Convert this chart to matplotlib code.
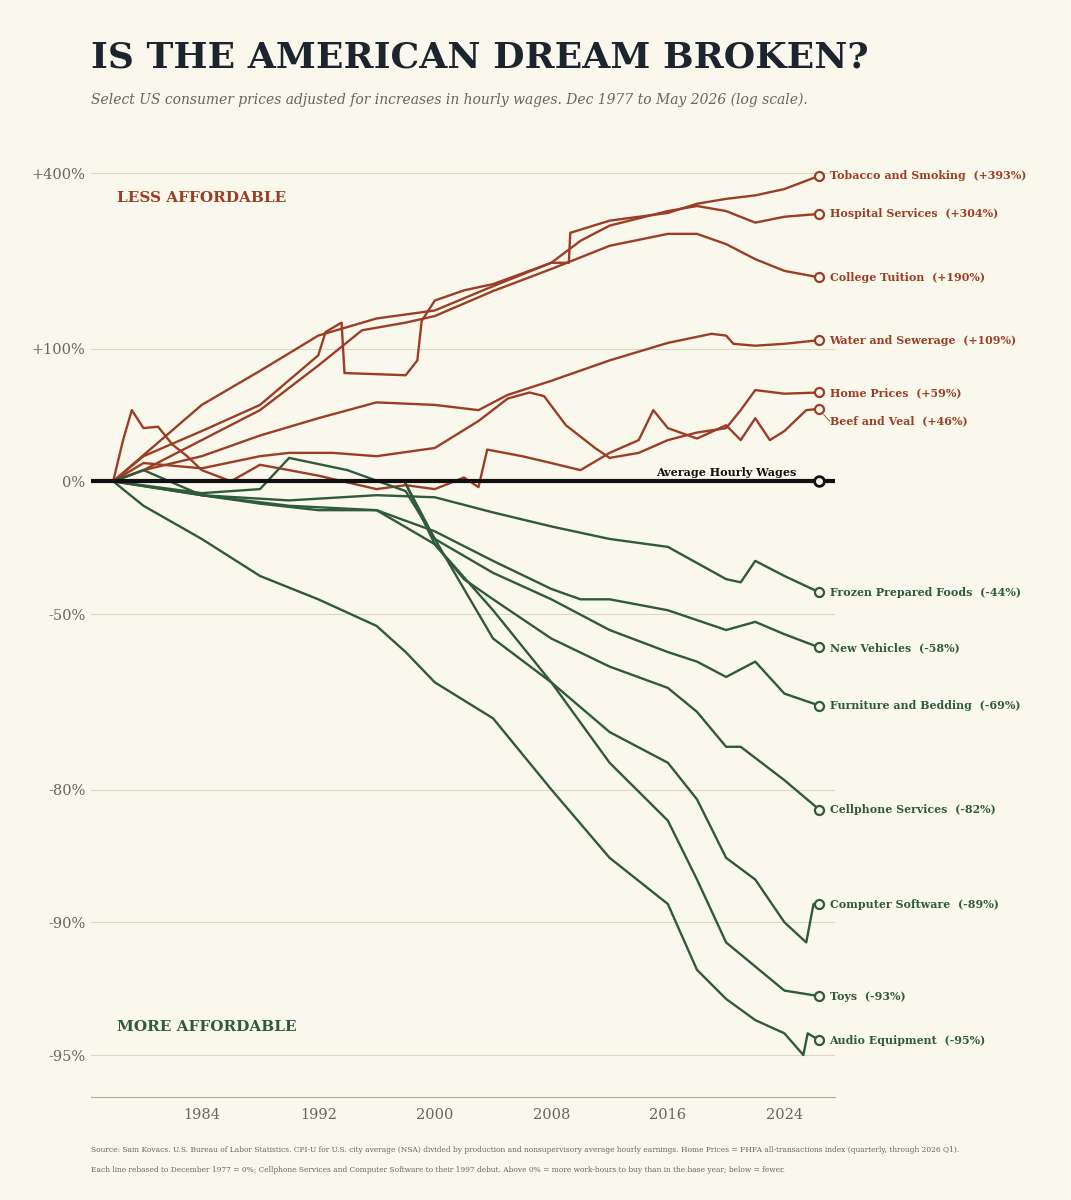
import numpy as np
import matplotlib
matplotlib.use("Agg")
import matplotlib.pyplot as plt

BG = "#faf8ec"; RED = "#9c3d26"; GREEN = "#2f5a3c"; INK = "#1c2430"; GREY = "#666660"

tobacco_x = [1977.92,1980,1984,1988,1992,1992.5,1993.6,1993.8,1998,1998.8,1999.1,2000,2002,2004,2008,2009.2,2009.3,2012,2016,2018,2020,2022,2024,2026.4]
tobacco_y = [0,14,30,49,93,118,129,76,74,88,131,157,171,180,213,213,266,290,306,326,337,345,360,393]
hospital_x = [1977.92,1984,1988,1992,1996,2000,2004,2008,2010,2012,2016,2018,2020,2022,2024,2026.4]
hospital_y = [0,49,78,114,134,144,177,213,251,280,310,321,310,286,298,304]
college_x = [1977.92,1980,1984,1988,1992,1995,1998,2000,2004,2008,2012,2016,2018,2020,2022,2024,2026.4]
college_y = [0,6,24,45,83,120,129,137,170,203,242,264,264,245,219,200,190]
water_x = [1977.92,1980,1984,1988,1992,1996,2000,2003,2005,2008,2012,2016,2019,2020,2020.5,2022,2024,2026.4]
water_y = [0,6,14,27,39,51,49,45,57,69,88,106,116,114,105,103,105,109]
home_x = [1977.92,1980,1984,1988,1990,1993,1996,2000,2003,2005,2006.5,2007.5,2009,2011,2012,2014,2016,2018,2020,2021,2022,2024,2026.4]
home_y = [0,10,7,14,16,16,14,19,37,54,59,56,34,19,13,16,24,29,32,45,61,58,59]
beef_x = [1977.92,1978.6,1979.2,1980,1981,1982,1983,1984,1986,1988,1990,1992,1996,1998,2000,2002,2003,2003.6,2006,2008,2010,2012,2014,2015,2016,2018,2020,2021,2022,2023,2024,2025.5,2026.4]
beef_y = [0,24,45,32,33,21,14,6,0,9,6,3,-4,-2,-4,2,-3,18,14,10,6,16,24,45,32,25,34,24,39,24,30,45,46]
frozen_x = [1977.92,1980,1984,1990,1996,2000,2004,2008,2012,2016,2020,2021,2022,2024,2026.4]
frozen_y = [0,6,-7,-9.5,-7,-8,-15,-21,-26,-29,-40,-41,-34,-39,-44]
vehicles_x = [1977.92,1984,1988,1992,1996,2000,2004,2008,2010,2012,2016,2020,2022,2024,2026.4]
vehicles_y = [0,-7,-11,-14,-14,-23,-34,-43,-46,-46,-49,-54,-52,-55,-58]
furniture_x = [1977.92,1984,1988,1990,1994,1998,2000,2004,2008,2012,2016,2018,2020,2022,2024,2026.4]
furniture_y = [0,-6,-4,13,6,-5,-26,-38,-46,-54,-59,-61,-64,-61,-67,-69]
cell_x = [1997.92,2000,2002,2004,2008,2012,2016,2018,2020,2021,2024,2026.4]
cell_y = [0,-28,-40,-46,-56,-62,-66,-70,-75,-75,-79,-82]
software_x = [1997.92,2000,2002,2004,2008,2012,2016,2018,2020,2022,2024,2025.5,2026.0,2026.4]
software_y = [0,-26,-43,-56,-65,-73,-77,-81,-86,-87.5,-90,-91,-89,-89]
toys_x = [1977.92,1984,1990,1996,2000,2004,2008,2012,2016,2018,2020,2024,2026.4]
toys_y = [0,-7,-12,-14,-28,-49,-65,-77,-83,-87.5,-91,-93,-93.2]
audio_x = [1977.92,1980,1984,1988,1992,1996,1998,2000,2004,2008,2012,2016,2018,2020,2022,2024,2025.3,2025.6,2026.4]
audio_y = [0,-12,-26,-39,-46,-53,-59,-65,-71,-80,-86,-89,-92.2,-93.3,-94,-94.4,-95,-94.4,-94.6]

series = [
    ("Tobacco and Smoking", tobacco_x, tobacco_y, "+393%", 393, RED),
    ("Hospital Services", hospital_x, hospital_y, "+304%", 304, RED),
    ("College Tuition", college_x, college_y, "+190%", 190, RED),
    ("Water and Sewerage", water_x, water_y, "+109%", 109, RED),
    ("Home Prices", home_x, home_y, "+59%", 59, RED),
    ("Beef and Veal", beef_x, beef_y, "+46%", 37, RED),
    ("Frozen Prepared Foods", frozen_x, frozen_y, "-44%", -44, GREEN),
    ("New Vehicles", vehicles_x, vehicles_y, "-58%", -58, GREEN),
    ("Furniture and Bedding", furniture_x, furniture_y, "-69%", -69, GREEN),
    ("Cellphone Services", cell_x, cell_y, "-82%", -82, GREEN),
    ("Computer Software", software_x, software_y, "-89%", -89, GREEN),
    ("Toys", toys_x, toys_y, "-93%", -93.2, GREEN),
    ("Audio Equipment", audio_x, audio_y, "-95%", -94.6, GREEN),
]

ytick_vals = [400, 100, 0, -50, -80, -90, -95]
ytick_labels = ["+400%", "+100%", "0%", "-50%", "-80%", "-90%", "-95%"]
xtick_vals = [1984, 1992, 2000, 2008, 2016, 2024]

def r(p):
    return 1 + np.asarray(p, dtype=float) / 100.0

fig = plt.figure(figsize=(10.71, 12), dpi=100, facecolor=BG)
ax = fig.add_axes([0.085, 0.086, 0.695, 0.789], facecolor=BG)
ax.set_yscale("log")
ax.set_xlim(1976.4, 2027.5)
ax.set_ylim(0.0402, 5.64)
ax.set_yticks(r(ytick_vals))
ax.set_yticklabels(ytick_labels)
ax.minorticks_off()
ax.set_xticks(xtick_vals)
ax.tick_params(length=0, labelsize=10.5, colors=GREY, pad=8)
for lab in ax.get_xticklabels() + ax.get_yticklabels():
    lab.set_family("DejaVu Serif")
ax.tick_params(axis="y", pad=4)
for s in ["top", "right", "left"]:
    ax.spines[s].set_visible(False)
ax.spines["bottom"].set_color("#b0aa98")
for v in ytick_vals:
    if v != 0:
        ax.axhline(r(v), color="#ddd6c4", lw=0.8, zorder=0)

for name, xs, ys, lbl, ly, c in series:
    ax.plot(xs, r(ys), color=c, lw=1.7, zorder=3)
    ax.plot(xs[-1], r(ys[-1]), "o", ms=6.5, mfc=BG, mec=c, mew=1.6, zorder=5)
    if name == "Beef and Veal":
        ax.plot([xs[-1] + 0.3, xs[-1] + 0.7], [r(ys[-1]) * 0.97, r(ly)], color=c, lw=0.6,
                clip_on=False)
    ax.text(xs[-1] + 0.7, r(ly), f"{name}  ({lbl})", color=c, fontsize=7.9,
            fontweight="bold", family="DejaVu Serif", va="center", ha="left", clip_on=False)

ax.axhline(1.0, color="#111111", lw=3, zorder=4)
ax.plot(2026.4, 1.0, "o", ms=7, mfc=BG, mec="#111111", mew=2, zorder=6)
ax.text(2024.8, 1.02, "Average Hourly Wages", fontsize=8, fontweight="bold",
        family="DejaVu Serif", ha="right", va="bottom", color="#111111", zorder=6)

ax.text(1978.2, r(339), "LESS AFFORDABLE", color=RED, fontsize=11, fontweight="bold",
        family="DejaVu Serif", va="center")
ax.text(1978.2, r(-94.2), "MORE AFFORDABLE", color=GREEN, fontsize=11, fontweight="bold",
        family="DejaVu Serif", va="center")

fig.text(0.085, 0.952, "IS THE AMERICAN DREAM BROKEN?", fontsize=26, fontweight="bold",
         family="DejaVu Serif", color=INK, va="center")
fig.text(0.085, 0.917, "Select US consumer prices adjusted for increases in hourly wages. Dec 1977 to May 2026 (log scale).",
         fontsize=10, style="italic", family="DejaVu Serif", color=GREY, va="center")
fig.text(0.085, 0.042, "Source: Sam Kovacs. U.S. Bureau of Labor Statistics. CPI-U for U.S. city average (NSA) divided by production and nonsupervisory average hourly earnings. Home Prices = FHFA all-transactions index (quarterly, through 2026 Q1).",
         fontsize=5.4, family="DejaVu Serif", color=GREY, va="center")
fig.text(0.085, 0.025, "Each line rebased to December 1977 = 0%; Cellphone Services and Computer Software to their 1997 debut. Above 0% = more work-hours to buy than in the base year; below = fewer.",
         fontsize=5.4, family="DejaVu Serif", color=GREY, va="center")

fig.savefig("out.png", dpi=100, facecolor=BG)
